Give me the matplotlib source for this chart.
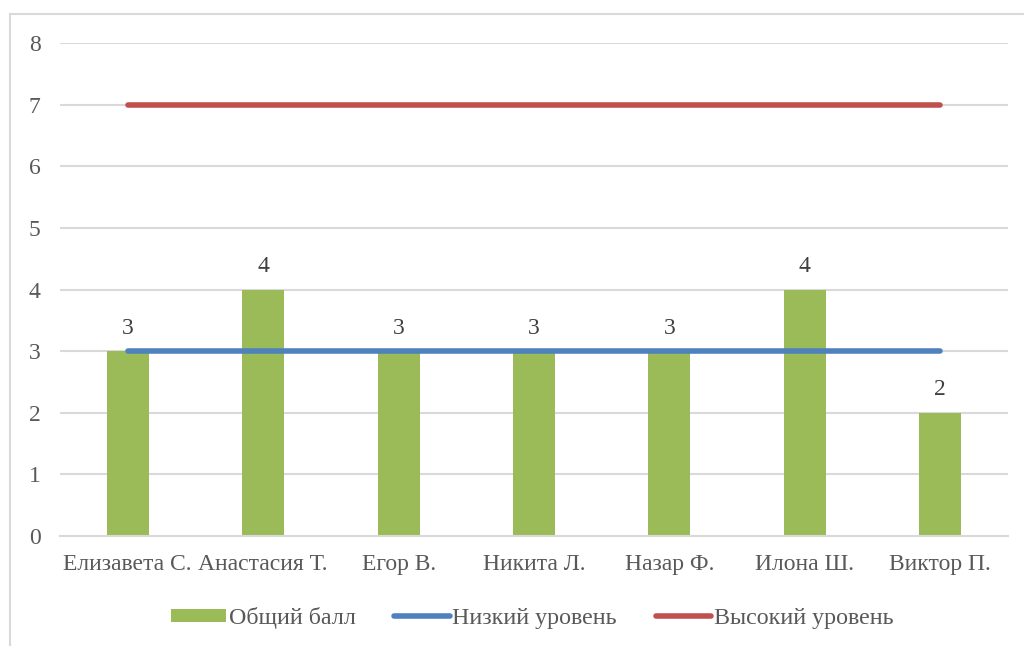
import matplotlib.pyplot as plt
import numpy as np

names = ['Елизавета С.', 'Анастасия Т.', 'Егор В.', 'Никита Л.', 'Назар Ф.', 'Илона Ш.', 'Виктор П.']
total = [3, 4, 3, 3, 3, 4, 2]
low = [3, 3, 3, 3, 3, 3, 3]
high = [7, 7, 7, 7, 7, 7, 7]

plt.rcParams['font.family'] = ['Liberation Serif', 'DejaVu Serif']

fig = plt.figure(figsize=(10.24, 6.46), dpi=100)
ax = fig.add_axes([60 / 1024, 1 - 536 / 646, 948 / 1024, 493 / 646])

x = np.arange(len(names))
bars = ax.bar(x, total, width=0.31, color='#9BBB59', label='Общий балл', zorder=2)
ln_low, = ax.plot(x, low, color='#4F81BD', lw=4, solid_capstyle='round', label='Низкий уровень', zorder=3)
ln_high, = ax.plot(x, high, color='#C0504D', lw=4, solid_capstyle='round', label='Высокий уровень', zorder=3)

for xi, v in zip(x, total):
    ax.text(xi, v + 0.2, str(v), ha='center', va='bottom', fontsize=17, color='#404040')

ax.set_xlim(-0.5, len(names) - 0.5)
ax.set_ylim(0, 8)
ax.set_yticks(range(9))
ax.set_xticks(x)
ax.set_xticklabels(names)
ax.grid(axis='y', color='#D9D9D9', lw=1.5, zorder=0)
for s in ['top', 'right', 'left']:
    ax.spines[s].set_visible(False)
ax.spines['bottom'].set_color('#D9D9D9')
ax.spines['bottom'].set_linewidth(1.5)
ax.tick_params(length=0, labelsize=17, labelcolor='#595959')
ax.tick_params(axis='y', pad=14)
ax.tick_params(axis='x', pad=13)

ax.legend([bars, ln_low, ln_high], ['Общий балл', 'Низкий уровень', 'Высокий уровень'],
          loc='upper center', bbox_to_anchor=(0.498, -0.1), ncol=3, frameon=False,
          fontsize=17.3, labelcolor='#595959', handlelength=2.3, handleheight=0.5,
          handletextpad=0.12, columnspacing=1.6)

# chart frame (left and top edges visible)
fig.add_artist(plt.Line2D([10 / 1024, 10 / 1024], [0, 1 - 14 / 646], color='#D9D9D9', lw=1.5))
fig.add_artist(plt.Line2D([10 / 1024, 1], [1 - 14 / 646, 1 - 14 / 646], color='#D9D9D9', lw=1.5))

fig.savefig('out.png', dpi=100)
